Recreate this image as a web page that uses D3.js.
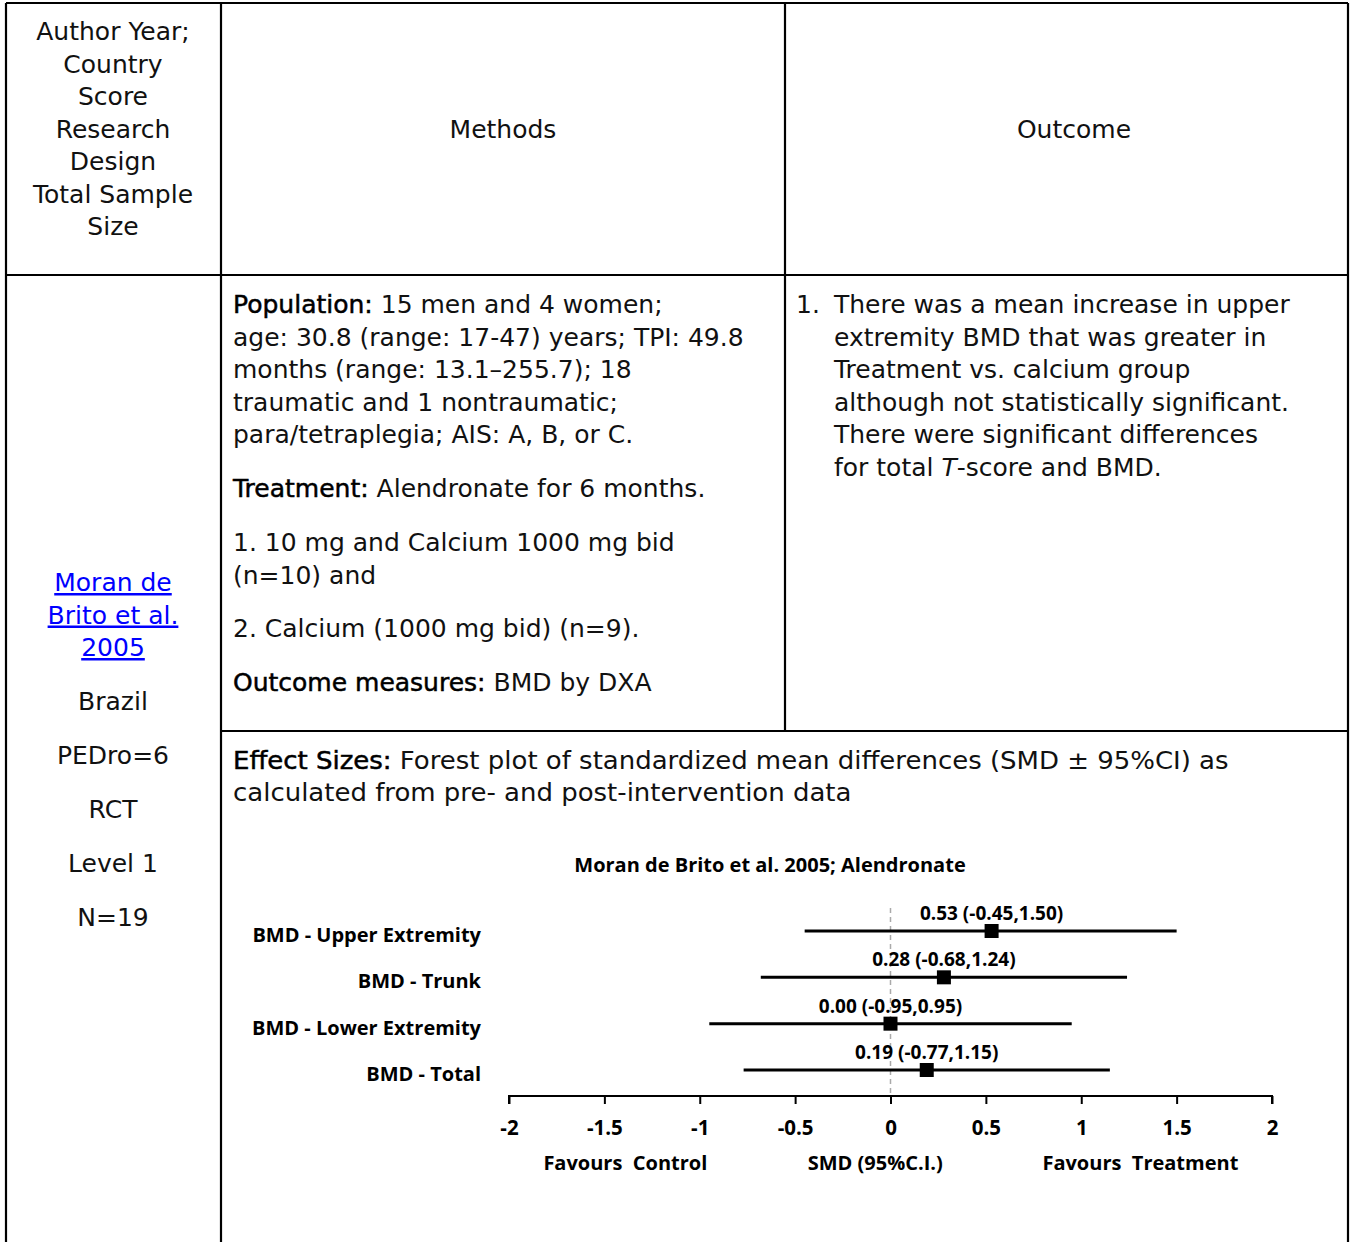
<!DOCTYPE html>
<html lang="en">
<head>
<meta charset="utf-8">
<title>Moran de Brito et al. 2005; Alendronate</title>
<script src="https://d3js.org/d3.v7.min.js"></script>
<style>
  body { margin: 0; background: #fff; }
  .txt { font-family: "DejaVu Sans", sans-serif; font-size: 25px; fill: #111; }
  .chart text { font-family: "Open Sans", sans-serif; font-weight: bold; font-size: 20px; fill: #000; white-space: pre; }
  .chart text.val { font-size: 19px; }
</style>
</head>
<body>
<script>
// ---- chart data ----
var outcomes = ["BMD - Upper Extremity", "BMD - Trunk", "BMD - Lower Extremity", "BMD - Total"]
var smd = [0.53, 0.28, 0.00, 0.19]
var ciLow = [-0.45, -0.68, -0.95, -0.77]
var ciHigh = [1.50, 1.24, 0.95, 1.15]
var xTicks = [-2, -1.5, -1, -0.5, 0, 0.5, 1, 1.5, 2]
var chartTitle = "Moran de Brito et al. 2005; Alendronate"
var axisNotes = [["Favours  Control", -1.39], ["SMD (95%C.I.)", -0.08], ["Favours  Treatment", 1.31]]

// ---- table text ----
var headerLeft = ["Author Year;", "Country", "Score", "Research", "Design", "Total Sample", "Size"]
var studyLink = ["Moran de", "Brito et al.", "2005"]
var studyInfo = ["Brazil", "PEDro=6", "RCT", "Level 1", "N=19"]
var populationLines = [
  ["Population:", " 15 men and 4 women;"],
  ["", "age: 30.8 (range: 17-47) years; TPI: 49.8"],
  ["", "months (range: 13.1\u2013255.7); 18"],
  ["", "traumatic and 1 nontraumatic;"],
  ["", "para/tetraplegia; AIS: A, B, or C."]
]
var methodParas = [
  [["Treatment:", " Alendronate for 6 months."]],
  [["", "1. 10 mg and Calcium 1000 mg bid"], ["", "(n=10) and"]],
  [["", "2. Calcium (1000 mg bid) (n=9)."]],
  [["Outcome measures:", " BMD by DXA"]]
]
var outcomeLines = ["There was a mean increase in upper", "extremity BMD that was greater in",
  "Treatment vs. calcium group", "although not statistically significant.",
  "There were significant differences"]
var effectLines = [["Effect Sizes:", " Forest plot of standardized mean differences (SMD \u00b1 95%CI) as"],
  ["", "calculated from pre- and post-intervention data"]]

var w = 1351, h = 1242
var lh = 32.5

var svg = d3.select("body").append("svg")
  .attr("width", w).attr("height", h)

// table borders
var borders = [
  [6, 3, 1348, 3], [6, 3, 6, h], [1348, 3, 1348, h], [221, 3, 221, h],
  [785, 3, 785, 731], [6, 275, 1348, 275], [221, 731, 1348, 731]
]
svg.append("g").selectAll("line").data(borders).enter().append("line")
  .attr("x1", d => d[0]).attr("y1", d => d[1]).attr("x2", d => d[2]).attr("y2", d => d[3])
  .attr("stroke", "#000").attr("stroke-width", 2.2)

// helper: writes rich lines (bold label + normal text)
function richLines(g, lines, x, y0, step) {
  lines.forEach(function(l, i) {
    var t = g.append("text").attr("class", "txt").attr("x", x).attr("y", y0 + i * step)
    if (l[0]) t.append("tspan").attr("fill", "#000").style("stroke", "#000").style("stroke-width", "0.5").text(l[0])
    t.append("tspan").text(l[1])
  })
}

// header
var hg = svg.append("g")
hg.selectAll("text").data(headerLeft).enter().append("text")
  .attr("class", "txt").attr("x", 113).attr("y", (d, i) => 40 + i * lh)
  .attr("text-anchor", "middle").text(d => d)
hg.append("text").attr("class", "txt").attr("x", 503).attr("y", 138).attr("text-anchor", "middle").text("Methods")
hg.append("text").attr("class", "txt").attr("x", 1074).attr("y", 138).attr("text-anchor", "middle").text("Outcome")

// left column
var lg = svg.append("g")
lg.append("a").attr("href", "#")
  .selectAll("text").data(studyLink).enter().append("text")
  .attr("class", "txt").attr("x", 113).attr("y", (d, i) => 591 + i * lh)
  .attr("text-anchor", "middle").style("fill", "#0000ff").style("text-decoration", "underline")
  .text(d => d)
lg.selectAll("text.info").data(studyInfo).enter().append("text")
  .attr("class", "txt info").attr("x", 113).attr("y", (d, i) => 710 + i * 54)
  .attr("text-anchor", "middle").text(d => d)

// methods
var mg = svg.append("g")
richLines(mg, populationLines, 233, 313, lh)
var paraY = [497, 551, 637, 691]
methodParas.forEach(function(p, i) { richLines(mg, p, 233, paraY[i], lh) })

// outcome
var og = svg.append("g")
og.append("text").attr("class", "txt").attr("x", 796).attr("y", 313).text("1.")
og.selectAll("text.ol").data(outcomeLines).enter().append("text")
  .attr("class", "txt ol").attr("x", 834).attr("y", (d, i) => 313 + i * lh).text(d => d)
var last = og.append("text").attr("class", "txt").attr("x", 834).attr("y", 313 + 5 * lh)
last.append("tspan").text("for total ")
last.append("tspan").style("font-style", "italic").text("T")
last.append("tspan").text("-score and BMD.")

// effect sizes (narrowed to fit cell)
var eg = svg.append("g")
richLines(eg, effectLines, 0, 0, lh)
var ew = eg.node().getBBox().width
eg.attr("transform", "translate(233,769) scale(" + (996 / ew) + ",1)")

// ---- forest plot ----
var loc = d3.formatLocale({ decimal: ".", thousands: ",", grouping: [3], currency: ["", ""], minus: "-" })
var f2 = loc.format(".2f")
var fTick = loc.format("~g")

var chart = svg.append("g").attr("class", "chart")
var xScale = d3.scaleLinear().domain([-2, 2]).range([509, 1272])
var yScale = d3.scalePoint().domain(outcomes).range([931, 1070])
var axisY = 1096

chart.append("text").attr("x", 770).attr("y", 872).attr("text-anchor", "middle").text(chartTitle)

// zero line
chart.append("line")
  .attr("x1", xScale(0)).attr("x2", xScale(0))
  .attr("y1", 908).attr("y2", axisY)
  .attr("stroke", "#aaa").attr("stroke-width", 1.5).attr("stroke-dasharray", "5,4")

// axis
var xAxis = d3.axisBottom(xScale).tickValues(xTicks).tickSize(8).tickPadding(16).tickFormat(fTick)
var ax = chart.append("g").attr("transform", "translate(0," + axisY + ")").call(xAxis)
ax.select(".domain").attr("stroke-width", 2).attr("d", "M509,8V0H1272V8")
ax.selectAll(".tick line").attr("stroke-width", 2)
ax.selectAll(".tick text").attr("font-family", null).attr("font-size", null).style("font-size", "20.5px").attr("dy", "0.71em")

chart.selectAll("text.note").data(axisNotes).enter().append("text")
  .attr("class", "note").attr("x", d => xScale(d[1])).attr("y", 1170)
  .attr("text-anchor", "middle").text(d => d[0])

// category labels
chart.selectAll("text.cat").data(outcomes).enter().append("text")
  .attr("class", "cat").attr("x", 481).attr("y", d => yScale(d) + 11)
  .attr("text-anchor", "end").text(d => d)

var rows = outcomes.map((o, i) => ({ name: o, est: smd[i], lo: ciLow[i], hi: ciHigh[i] }))

chart.selectAll("line.ci").data(rows).enter().append("line")
  .attr("class", "ci")
  .attr("x1", d => xScale(d.lo)).attr("x2", d => xScale(d.hi))
  .attr("y1", d => yScale(d.name)).attr("y2", d => yScale(d.name))
  .attr("stroke", "#000").attr("stroke-width", 3)

chart.selectAll("rect.pt").data(rows).enter().append("rect")
  .attr("class", "pt")
  .attr("x", d => xScale(d.est) - 7).attr("y", d => yScale(d.name) - 7)
  .attr("width", 14).attr("height", 14).attr("fill", "#000")

chart.selectAll("text.val").data(rows).enter().append("text")
  .attr("class", "val").attr("x", d => xScale(d.est)).attr("y", d => yScale(d.name) - 11)
  .attr("text-anchor", "middle")
  .text(d => f2(d.est) + " (" + f2(d.lo) + "," + f2(d.hi) + ")")
</script>
</body>
</html>
